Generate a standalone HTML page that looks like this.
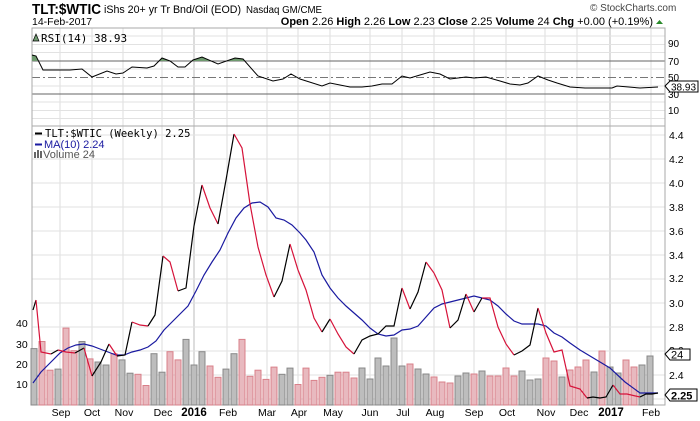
<!DOCTYPE html>
<html><head><meta charset="utf-8"><style>
html,body{margin:0;padding:0;background:#fff;}
svg{display:block;font-family:"Liberation Sans",sans-serif;}
</style></head><body>
<svg width="700" height="421" viewBox="0 0 700 421" xmlns="http://www.w3.org/2000/svg">
<rect width="700" height="421" fill="#fff"/>
<text x="32" y="14" font-size="15" font-weight="bold" textLength="69" lengthAdjust="spacingAndGlyphs">TLT:$WTIC</text>
<text x="104" y="13" font-size="11" textLength="137" lengthAdjust="spacingAndGlyphs">iShs 20+ yr Tr Bnd/Oil (EOD)</text>
<text x="246" y="13" font-size="10" textLength="76" lengthAdjust="spacingAndGlyphs">Nasdaq GM/CME</text>
<text x="32" y="25" font-size="10.5">14-Feb-2017</text>
<text x="590" y="11" font-size="10" fill="#444">© StockCharts.com</text>
<text x="653" y="25" font-size="11" text-anchor="end"><tspan font-weight="bold">Open</tspan> 2.26 <tspan font-weight="bold">High</tspan> 2.26 <tspan font-weight="bold">Low</tspan> 2.23 <tspan font-weight="bold">Close</tspan> 2.25 <tspan font-weight="bold">Volume</tspan> 24 <tspan font-weight="bold">Chg</tspan> +0.00 (+0.19%)</text>
<polygon points="656,24 663,24 659.5,20" fill="#2a8a2a"/>

<g stroke="#ddd" stroke-width="1">
<line x1="60" y1="28" x2="60" y2="405"/><line x1="92" y1="28" x2="92" y2="405"/><line x1="123" y1="28" x2="123" y2="405"/><line x1="162" y1="28" x2="162" y2="405"/><line x1="227" y1="28" x2="227" y2="405"/><line x1="267" y1="28" x2="267" y2="405"/><line x1="298" y1="28" x2="298" y2="405"/><line x1="330" y1="28" x2="330" y2="405"/><line x1="370" y1="28" x2="370" y2="405"/><line x1="402" y1="28" x2="402" y2="405"/><line x1="434" y1="28" x2="434" y2="405"/><line x1="474" y1="28" x2="474" y2="405"/><line x1="506" y1="28" x2="506" y2="405"/><line x1="545" y1="28" x2="545" y2="405"/><line x1="577" y1="28" x2="577" y2="405"/><line x1="651" y1="28" x2="651" y2="405"/>
</g>
<g stroke="#bbb"><line x1="194" y1="28" x2="194" y2="405"/><line x1="610" y1="28" x2="610" y2="405"/></g>
<g stroke="#e2e2e2">
<line x1="32" y1="36" x2="665" y2="36"/><line x1="32" y1="44.5" x2="665" y2="44.5"/><line x1="32" y1="52.5" x2="665" y2="52.5"/><line x1="32" y1="69" x2="665" y2="69"/><line x1="32" y1="86" x2="665" y2="86"/><line x1="32" y1="102" x2="665" y2="102"/><line x1="32" y1="110.5" x2="665" y2="110.5"/><line x1="32" y1="118.5" x2="665" y2="118.5"/>
</g>
<g stroke="#e2e2e2">
<line x1="32" y1="135" x2="665" y2="135"/><line x1="32" y1="159" x2="665" y2="159"/><line x1="32" y1="183" x2="665" y2="183"/><line x1="32" y1="207" x2="665" y2="207"/><line x1="32" y1="231" x2="665" y2="231"/><line x1="32" y1="255" x2="665" y2="255"/><line x1="32" y1="279" x2="665" y2="279"/><line x1="32" y1="303" x2="665" y2="303"/><line x1="32" y1="327" x2="665" y2="327"/><line x1="32" y1="351" x2="665" y2="351"/><line x1="32" y1="375" x2="665" y2="375"/><line x1="32" y1="399" x2="665" y2="399"/>
</g>
<line x1="32" y1="61" x2="665" y2="61" stroke="#666"/>
<line x1="32" y1="94" x2="665" y2="94" stroke="#666"/>
<line x1="32" y1="77.5" x2="665" y2="77.5" stroke="#777" stroke-dasharray="8,3,2,3"/>
<rect x="32" y="28" width="633" height="98" fill="none" stroke="#aaa"/>
<rect x="32" y="126" width="633" height="279" fill="none" stroke="#aaa"/>

<defs><clipPath id="ob"><rect x="32" y="28" width="633" height="33"/></clipPath></defs>
<polygon clip-path="url(#ob)" fill="#6f9a6f" points="32,61 32,55 36,56 43,70 70,70 82,69 92,77 107,71 116,74 123,73 132,67 147,68 154,66 162,58 170,61 178,67 185,67 193,60 202,57 218,64 235,58 243,59 258,76 258,61"/>
<polyline fill="none" stroke="#000" stroke-width="1" points="32,55 36,56 43,70 70,70 82,69 92,77 107,71 116,74 123,73 132,67 147,68 154,66 162,58 170,61 178,67 185,67 193,60 202,57 218,64 235,58 243,59 258,76 273,81 283,79 291,74 300,79 322,86 330,83 350,87 362,87 372,86 382,84 392,84 402,76 410,78 420,75 430,72 440,74 450,79 466,77 474,78 486,77 500,81 510,84 520,85 528,83 538,76 548,80 557,83 570,87 585,88 600,88 612,88 617,86 640,88 658,87"/>
<rect x="32" y="29" width="114" height="14" fill="#fff" opacity="0"/>
<text x="41" y="42" font-size="11" font-family="DejaVu Sans Mono,monospace">RSI(14) 38.93</text>
<polygon points="33,41 36,34 39,41" fill="#6f9a6f" stroke="#000" stroke-width="0.7"/>
<g font-size="10" fill="#000">
<text x="668" y="47">90</text><text x="668" y="65">70</text><text x="668" y="81">50</text><text x="668" y="98">30</text><text x="668" y="114">10</text>
</g>
<polygon points="665,86 670,81 698,81 698,92 670,92" fill="#fff" stroke="#000"/>
<text x="671" y="90.5" font-size="10">38.93</text>

<g stroke-width="1">
<g fill="#bdbdbd" stroke="#888">
<rect x="31" y="348.6" width="6" height="56.4"/><rect x="55" y="369.1" width="6" height="35.9"/><rect x="79" y="341.5" width="6" height="63.5"/><rect x="95" y="362" width="6" height="43"/><rect x="103" y="365" width="6" height="40"/><rect x="119" y="359.9" width="6" height="45.1"/><rect x="127" y="373.2" width="6" height="31.8"/><rect x="151" y="353.7" width="6" height="51.3"/><rect x="159" y="372.2" width="6" height="32.8"/><rect x="183" y="339.4" width="6" height="65.6"/><rect x="191" y="365" width="6" height="40"/><rect x="199" y="351.7" width="6" height="53.3"/><rect x="223" y="369.1" width="6" height="35.9"/><rect x="231" y="353.7" width="6" height="51.3"/><rect x="279" y="374.3" width="6" height="30.7"/><rect x="287" y="368.1" width="6" height="36.9"/><rect x="327" y="375.3" width="6" height="29.7"/>
<rect x="359" y="368" width="6" height="37"/><rect x="367" y="379" width="6" height="26"/><rect x="375" y="358" width="6" height="47"/><rect x="383" y="366" width="6" height="39"/><rect x="391" y="338" width="6" height="67"/><rect x="399" y="366" width="6" height="39"/><rect x="415" y="369" width="6" height="36"/><rect x="423" y="374" width="6" height="31"/><rect x="455" y="376" width="6" height="29"/><rect x="463" y="373" width="6" height="32"/><rect x="479" y="371" width="6" height="34"/><rect x="519" y="371" width="6" height="34"/><rect x="527" y="380" width="6" height="25"/><rect x="535" y="379" width="6" height="26"/><rect x="559" y="377" width="6" height="28"/><rect x="591" y="372" width="6" height="33"/><rect x="607" y="367" width="6" height="38"/><rect x="615" y="373" width="6" height="32"/><rect x="639" y="365" width="6" height="40"/><rect x="647" y="356" width="6" height="49"/>
</g>
<g fill="#e8b9bf" stroke="#d9808a">
<rect x="39" y="341.5" width="6" height="63.5"/><rect x="47" y="370.2" width="6" height="34.8"/><rect x="63" y="328.1" width="6" height="76.9"/><rect x="71" y="350.7" width="6" height="54.3"/><rect x="87" y="358.9" width="6" height="46.1"/><rect x="111" y="353.7" width="6" height="51.3"/><rect x="135" y="374.3" width="6" height="30.7"/><rect x="143" y="385.5" width="6" height="19.5"/><rect x="167" y="351.7" width="6" height="53.3"/><rect x="175" y="359.9" width="6" height="45.1"/><rect x="207" y="366" width="6" height="39"/><rect x="215" y="377.3" width="6" height="27.7"/><rect x="239" y="339.4" width="6" height="65.6"/><rect x="247" y="376.3" width="6" height="28.7"/><rect x="255" y="370.2" width="6" height="34.8"/><rect x="263" y="379.4" width="6" height="25.6"/><rect x="271" y="367.1" width="6" height="37.9"/><rect x="295" y="384.5" width="6" height="20.5"/><rect x="303" y="368.1" width="6" height="36.9"/><rect x="311" y="380.4" width="6" height="24.6"/><rect x="319" y="377.3" width="6" height="27.7"/><rect x="335" y="372.2" width="6" height="32.8"/><rect x="343" y="372.2" width="6" height="32.8"/>
<rect x="351" y="378" width="6" height="27"/><rect x="407" y="364" width="6" height="41"/><rect x="431" y="377" width="6" height="28"/><rect x="439" y="382" width="6" height="23"/><rect x="447" y="383" width="6" height="22"/><rect x="471" y="374" width="6" height="31"/><rect x="487" y="376" width="6" height="29"/><rect x="495" y="376" width="6" height="29"/><rect x="503" y="368" width="6" height="37"/><rect x="511" y="376" width="6" height="29"/><rect x="543" y="358" width="6" height="47"/><rect x="551" y="361" width="6" height="44"/><rect x="567" y="370" width="6" height="35"/><rect x="575" y="367" width="6" height="38"/><rect x="583" y="360" width="6" height="45"/><rect x="599" y="351" width="6" height="54"/><rect x="623" y="360" width="6" height="45"/><rect x="631" y="367" width="6" height="38"/>
</g>
</g>

<polyline fill="none" stroke="#1a1aa0" stroke-width="1.2" points="33,383 41,372 51,362 60,353 68,348 76,345 84,344 92,346 100,349 108,352 116,355 124,355 132,352 140,350 148,347 156,341 164,330 172,322 180,314 188,306 196,291 204,275 212,262 220,250 228,233 236,218 244,208 252,203 260,202 268,207 276,218 284,220 292,225 300,233 306,240 314,252 322,275 330,288 338,298 346,306 354,313 362,320 370,328 378,334 386,336 394,335 402,330 410,329 418,326 426,317 434,308 442,304 450,302 458,300 466,298 474,296 482,298 490,300 498,306 506,314 514,321 522,324 530,324 538,324 546,326 554,333 562,337 570,343 580,350 595,359 610,368 625,382 640,393 658,393"/>

<g fill="none" stroke-width="1.2">
<polyline stroke="#000" points="33,310 36,300"/>
<polyline stroke="#d6133a" points="36,300 41,352 51,354"/>
<polyline stroke="#000" points="51,354 58,350"/>
<polyline stroke="#d6133a" points="58,350 66,352 75,353"/>
<polyline stroke="#000" points="75,353 84,348"/>
<polyline stroke="#d6133a" points="84,348 92,376"/>
<polyline stroke="#000" points="92,376 101,362 109,344"/>
<polyline stroke="#d6133a" points="109,344 117,356"/>
<polyline stroke="#000" points="117,356 125,355 132,322"/>
<polyline stroke="#d6133a" points="132,322 140,325 148,326"/>
<polyline stroke="#000" points="148,326 155,315 163,256"/>
<polyline stroke="#d6133a" points="163,256 170,262 178,291"/>
<polyline stroke="#000" points="178,291 186,288 194,226 202,185"/>
<polyline stroke="#d6133a" points="202,185 210,208 218,224"/>
<polyline stroke="#000" points="218,224 226,180 234,134"/>
<polyline stroke="#d6133a" points="234,134 242,148 250,204 258,247 266,275 274,297"/>
<polyline stroke="#000" points="274,297 282,281 290,244"/>
<polyline stroke="#d6133a" points="290,244 298,270 306,290 314,318 322,332"/>
<polyline stroke="#000" points="322,332 330,319"/>
<polyline stroke="#d6133a" points="330,319 338,334 346,347 354,354"/>
<polyline stroke="#000" points="354,354 362,340 370,336 378,334 386,326 394,326 402,288"/>
<polyline stroke="#d6133a" points="402,288 410,309"/>
<polyline stroke="#000" points="410,309 418,292 426,262"/>
<polyline stroke="#d6133a" points="426,262 434,273 442,290 450,328"/>
<polyline stroke="#000" points="450,328 458,320 466,294"/>
<polyline stroke="#d6133a" points="466,294 474,312"/>
<polyline stroke="#000" points="474,312 482,298"/>
<polyline stroke="#d6133a" points="482,298 490,298 498,327 506,344 514,355"/>
<polyline stroke="#000" points="514,355 522,351 530,345 538,308"/>
<polyline stroke="#d6133a" points="538,308 546,333 554,352 562,350 570,386 580,389 587,398"/>
<polyline stroke="#000" points="587,398 593,397 600,398 606,397 613,385"/>
<polyline stroke="#d6133a" points="613,385 620,394 627,394 640,397"/>
<polyline stroke="#000" points="640,397 646,394 652,394 658,393"/>
</g>

<g font-size="10.5" font-family="DejaVu Sans Mono,monospace">
<line x1="35" y1="133.5" x2="42" y2="133.5" stroke="#000" stroke-width="2"/>
<text x="45" y="137">TLT:$WTIC (Weekly) 2.25</text>
<line x1="35" y1="144.5" x2="42" y2="144.5" stroke="#1a1aa0" stroke-width="2"/>
<text x="44" y="148" fill="#1a1aa0" font-family="Liberation Sans,sans-serif" font-size="11">MA(10) 2.24</text>
<g fill="#666"><rect x="34" y="152" width="2" height="6"/><rect x="37" y="150" width="2" height="8"/><rect x="40" y="151" width="2" height="7"/></g>
<text x="43" y="158" fill="#555" font-family="Liberation Sans,sans-serif" font-size="11">Volume 24</text>
</g>

<g font-size="10.5">
<text x="669" y="139">4.4</text><text x="669" y="163">4.2</text><text x="669" y="187">4.0</text><text x="669" y="211">3.8</text><text x="669" y="235">3.6</text><text x="669" y="259">3.4</text><text x="669" y="282">3.2</text><text x="669" y="307">3.0</text><text x="669" y="331">2.8</text><text x="669" y="354">2.6</text><text x="669" y="379">2.4</text><text x="669" y="401">2.2</text>
</g>
<g font-size="10.5"><text x="16" y="327">40</text><text x="16" y="348">30</text><text x="16" y="368">20</text><text x="16" y="388">10</text></g>
<polygon points="665,354 670,349 690,349 690,360 670,360" fill="#fff" stroke="#000"/>
<text x="671" y="358.5" font-size="11">24</text>
<polygon points="665,395 670,389 697,389 697,401 670,401" fill="#fff" stroke="#000"/>
<text x="671" y="399.5" font-size="11" font-weight="bold">2.25</text>

<g font-size="10.5" text-anchor="middle">
<text x="61" y="416">Sep</text><text x="92" y="416">Oct</text><text x="124" y="416">Nov</text><text x="163" y="416">Dec</text><text x="194" y="416" font-weight="bold" font-size="11.5">2016</text><text x="228" y="416">Feb</text><text x="267" y="416">Mar</text><text x="299" y="416">Apr</text><text x="333" y="416">May</text><text x="370" y="416">Jun</text><text x="403" y="416">Jul</text><text x="435" y="416">Aug</text><text x="474" y="416">Sep</text><text x="507" y="416">Oct</text><text x="546" y="416">Nov</text><text x="579" y="416">Dec</text><text x="611" y="416" font-weight="bold" font-size="11.5">2017</text><text x="651" y="416">Feb</text>
</g>
</svg>
</body></html>
